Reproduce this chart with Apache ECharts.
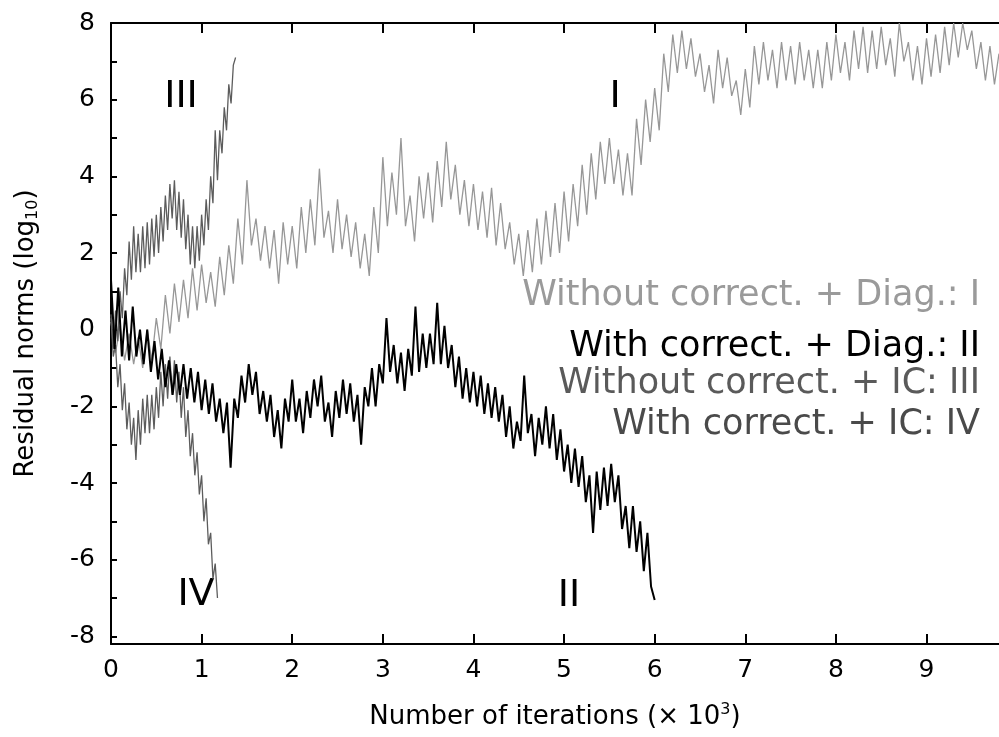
<!DOCTYPE html>
<html>
<head>
<meta charset="utf-8">
<script src="https://cdn.jsdelivr.net/npm/echarts@6/dist/echarts.min.js"></script>
<style>html,body{margin:0;padding:0;background:#fff;}#c{width:999px;height:737px;}</style>
</head>
<body>
<div id="c"></div>
<script>
// x sampling (thousands of iterations)
const stepI = 0.05, stepII = 0.04, stepIII = 0.025, stepIV = 0.025;
// Without correct. + Diag. : I
const seriesI = [
0.2,-0.6,0.1,-0.8,-0.1,-0.9,-0.2,-1.0,0.0,-0.8, 0.3,-0.5,0.9,-0.1,1.2,0.2,1.3,0.3,1.6,0.5,
1.7,0.7,1.5,0.6,1.9,0.9,2.2,1.2,2.9,1.7, 3.9,2.2,2.9,1.8,2.7,1.6,2.6,1.2,2.8,1.7,
2.7,1.6,3.2,2.0,3.4,2.2,4.2,2.4,3.1,2.0, 3.4,2.1,3.0,1.9,2.8,1.6,2.5,1.4,3.2,2.0,
4.5,2.7,4.1,3.0,5.0,2.7,3.5,2.3,4.0,2.9, 4.1,2.8,4.4,3.2,4.9,3.4,4.3,3.0,3.9,2.7,
3.8,2.6,3.6,2.4,3.7,2.2,3.3,2.1,2.8,1.7, 2.5,1.4,2.6,1.5,2.9,1.7,3.1,1.9,3.3,2.0,
3.6,2.3,3.8,2.7,4.3,3.0,4.6,3.4,4.9,3.8, 5.0,3.8,4.7,3.5,4.6,3.5,5.5,4.3,6.0,4.9,
6.3,5.2,7.2,6.2,7.7,6.7,7.8,6.8,7.6,6.6, 7.2,6.2,6.9,5.9,7.3,6.3,7.1,6.1,6.5,5.6,
6.8,5.8,7.4,6.4,7.5,6.5,7.3,6.3,7.5,6.5, 7.4,6.4,7.5,6.5,7.3,6.3,7.3,6.3,7.5,6.5,
7.7,6.7,7.5,6.5,7.8,6.8,7.9,6.7,7.8,6.8, 7.9,6.9,7.6,6.6,8.0,7.0,7.5,6.5,7.4,6.4,
7.6,6.6,7.7,6.7,7.9,6.9,8.0,7.1,8.0,7.3, 7.8,6.8,7.5,6.5,7.4,6.4,7.2
];
// With correct. + Diag. : II
const seriesII = [
1.3,-0.5,1.1,-0.7,0.5,-0.8,0.6,-0.7,0.0,-0.9, 0.0,-1.1,-0.3,-1.3,-0.5,-1.5,-0.8,-1.7,-0.9,-1.7, -0.9,-1.8,-1.0,-1.9,-1.1,
-2.1,-1.3,-2.2,-1.4,-2.4,-1.8,-2.7,-1.9,-3.6,-1.8, -2.3,-1.2,-1.9,-0.9,-1.7,-1.1,-2.2,-1.6,-2.4,-1.7, -2.8,-2.1,-3.1,-1.8,-2.4,
-1.3,-2.4,-1.8,-2.7,-1.6,-2.3,-1.3,-2.0,-1.2,-2.4, -1.9,-2.8,-1.6,-2.3,-1.3,-2.2,-1.4,-2.4,-1.7,-3.0, -1.5,-2.0,-1.0,-2.0,-0.9,
-1.4,0.3,-1.1,-0.4,-1.4,-0.6,-1.6,-0.5,-1.2,0.6, -1.1,-0.1,-1.0,-0.1,-0.9,0.7,-0.9,0.1,-1.0,-0.4, -1.5,-0.7,-1.8,-1.0,-1.9,
-1.1,-2.0,-1.2,-2.2,-1.4,-2.3,-1.5,-2.4,-1.7,-2.8, -2.0,-3.1,-2.4,-2.9,-1.2,-2.7,-2.2,-3.3,-2.3,-3.0, -2.0,-3.1,-2.2,-3.4,-2.6,
-3.7,-3.0,-4.0,-3.1,-4.1,-3.3,-4.5,-3.8,-5.3,-3.7, -4.7,-3.6,-4.6,-3.5,-4.5,-3.8,-5.2,-4.6,-5.7,-4.6, -5.8,-5.0,-6.3,-5.3,-6.7,
-7.05
];
// Without correct. + IC : III
const seriesIII = [
0.4,-0.5,0.5,-0.3,1.0,0.3,1.6,0.9,2.3,1.3, 2.7,1.5,2.5,1.5,2.7,1.6,2.8,1.7,2.9,1.9,
3.0,2.0,3.2,2.3,3.5,2.6,3.8,2.9,3.9,2.6, 3.6,2.4,3.4,2.1,3.0,1.7,2.7,1.6,2.7,1.8,
3.0,2.2,3.4,2.6,4.0,3.3,5.2,3.9,5.2,4.6, 5.8,5.2,6.4,5.9,6.9,7.1
];
// With correct. + IC : IV
const seriesIV = [
0.3,-0.7,-0.4,-1.5,-0.9,-2.1,-1.4,-2.6,-1.9,-3.0, -2.3,-3.4,-2.1,-3.0,-1.8,-2.7,-1.7,-2.7,-1.7,-2.6,
-1.5,-2.3,-1.1,-2.0,-0.9,-1.8,-0.7,-1.7,-0.8,-1.9, -1.1,-2.3,-1.5,-2.8,-2.1,-3.3,-2.7,-3.8,-3.2,-4.3,
-3.8,-5.0,-4.4,-5.6,-5.3,-6.5,-6.1,-7.0
];
const xTicks = [0,1,2,3,4,5,6,7,8,9];
const yTicks = [-8,-7,-6,-5,-4,-3,-2,-1,0,1,2,3,4,5,6,7,8];
const yLabels = [-8,-6,-4,-2,0,2,4,6,8];
const legendTexts = ['Without correct. + Diag.: I','With correct. + Diag.: II','Without correct. + IC: III','With correct. + IC: IV'];
const curveLabels = ['III','I','IV','II'];

function toPairs(arr, step){ return arr.map((v,i)=>[+(i*step).toFixed(3), v]); }

const FONT = 'DejaVu Sans';
const chart = echarts.init(document.getElementById('c'), null, {renderer:'canvas'});
const axisLine = {show:true, onZero:false, lineStyle:{color:'#000', width:2}};
chart.setOption({
  animation:false,
  backgroundColor:'#fff',
  grid:{left:111, top:23, right:0, bottom:90, containLabel:false},
  xAxis:[{
    type:'value', min:0, max:9.8, position:'bottom',
    axisLine:axisLine,
    axisTick:{show:true, inside:true, length:10, lineStyle:{color:'#000', width:2}, customValues:xTicks},
    axisLabel:{customValues:xTicks, color:'#000', fontFamily:FONT, fontSize:25, margin:14,
      formatter:v=> (Math.abs(v-Math.round(v))<1e-6 ? String(Math.round(v)) : '')},
    splitLine:{show:false},
    name:'Number of iterations (× 10{sup|3})', nameLocation:'middle', nameGap:58,
    nameTextStyle:{color:'#000', fontFamily:FONT, fontSize:26, lineHeight:30,
      rich:{sup:{fontFamily:FONT, fontSize:16, verticalAlign:'top', lineHeight:20, color:'#000'}}}
  },{
    type:'value', min:0, max:9.8, position:'top',
    axisLine:axisLine,
    axisTick:{show:true, inside:true, length:10, lineStyle:{color:'#000', width:2}, customValues:xTicks},
    axisLabel:{show:false}, splitLine:{show:false}
  }],
  yAxis:[{
    type:'value', min:-8.2, max:8,
    axisLine:axisLine,
    axisTick:{show:true, inside:true, length:6, lineStyle:{color:'#000', width:2}, customValues:yTicks},
    axisLabel:{customValues:yLabels, color:'#000', fontFamily:FONT, fontSize:25, margin:16},
    splitLine:{show:false},
    name:'Residual norms (log{sub|10})', nameLocation:'middle', nameGap:70, nameRotate:90,
    nameTextStyle:{color:'#000', fontFamily:FONT, fontSize:26, lineHeight:30,
      rich:{sub:{fontFamily:FONT, fontSize:16, verticalAlign:'bottom', lineHeight:22, color:'#000'}}}
  }],
  series:[
    {name:legendTexts[0], type:'line', data:toPairs(seriesI, stepI), showSymbol:false, symbol:'none',
      lineStyle:{color:'#979797', width:1.3}, z:2},
    {name:legendTexts[2], type:'line', data:toPairs(seriesIII, stepIII), showSymbol:false, symbol:'none',
      lineStyle:{color:'#5c5c5c', width:1.3}, z:3},
    {name:legendTexts[3], type:'line', data:toPairs(seriesIV, stepIV), showSymbol:false, symbol:'none',
      lineStyle:{color:'#5c5c5c', width:1.3}, z:3},
    {name:legendTexts[1], type:'line', data:toPairs(seriesII, stepII), showSymbol:false, symbol:'none',
      lineStyle:{color:'#000', width:2}, z:4}
  ],
  graphic:[
    {type:'text', x:980, y:296, style:{text:legendTexts[0], fill:'#9a9a9a', font:'35px "DejaVu Sans"', textAlign:'right', textVerticalAlign:'middle', align:'right', verticalAlign:'middle'}},
    {type:'text', x:980, y:347, style:{text:legendTexts[1], fill:'#000', font:'35px "DejaVu Sans"', textAlign:'right', textVerticalAlign:'middle', align:'right', verticalAlign:'middle'}},
    {type:'text', x:980, y:384, style:{text:legendTexts[2], fill:'#5a5a5a', font:'35px "DejaVu Sans"', textAlign:'right', textVerticalAlign:'middle', align:'right', verticalAlign:'middle'}},
    {type:'text', x:980, y:425, style:{text:legendTexts[3], fill:'#4a4a4a', font:'35px "DejaVu Sans"', textAlign:'right', textVerticalAlign:'middle', align:'right', verticalAlign:'middle'}},
    {type:'text', x:181, y:97, style:{text:curveLabels[0], fill:'#000', font:'38px "DejaVu Sans"', textAlign:'center', textVerticalAlign:'middle', align:'center', verticalAlign:'middle'}},
    {type:'text', x:615, y:97, style:{text:curveLabels[1], fill:'#000', font:'38px "DejaVu Sans"', textAlign:'center', textVerticalAlign:'middle', align:'center', verticalAlign:'middle'}},
    {type:'text', x:196, y:595, style:{text:curveLabels[2], fill:'#000', font:'38px "DejaVu Sans"', textAlign:'center', textVerticalAlign:'middle', align:'center', verticalAlign:'middle'}},
    {type:'text', x:569, y:596, style:{text:curveLabels[3], fill:'#000', font:'38px "DejaVu Sans"', textAlign:'center', textVerticalAlign:'middle', align:'center', verticalAlign:'middle'}}
  ]
});
</script>
</body>
</html>
